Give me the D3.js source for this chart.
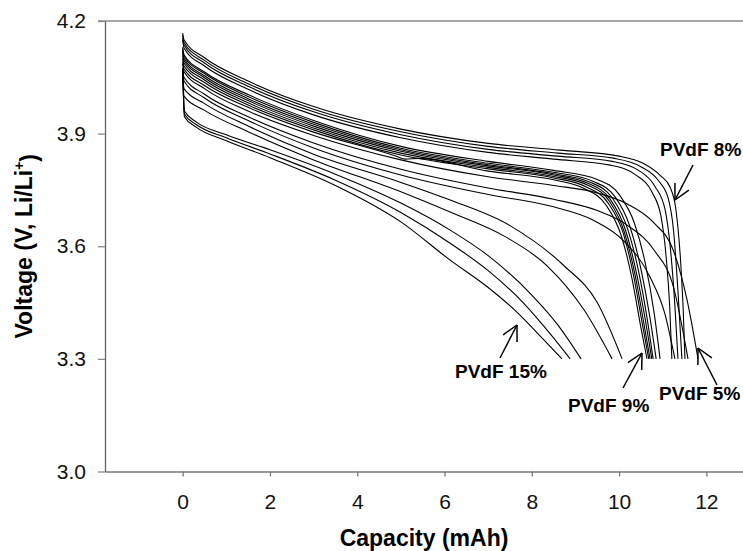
<!DOCTYPE html>
<html>
<head>
<meta charset="utf-8">
<script src="https://cdn.jsdelivr.net/npm/d3@7"></script>
<style>
  body { margin: 0; background: #fff; }
  text { font-family: "Liberation Sans", Arial, Helvetica, sans-serif; }
</style>
</head>
<body>
<div id="chart"></div>
<script>
// data: discharge curves, [capacity mAh, voltage V]
var pvdf8 = [
  [[0,4.168],[0.03,4.15],[0.5,4.102],[1.5,4.04],[3,3.972],[5,3.912],[7,3.874],[8.65,3.856],[10,3.84],[10.55,3.821],[10.94,3.789],[11.17,3.757],[11.3,3.70],[11.41,3.56],[11.47,3.43],[11.51,3.3]],
  [[0,4.162],[0.03,4.143],[0.5,4.095],[1.5,4.033],[3,3.965],[5,3.905],[7,3.866],[8.6,3.848],[9.9,3.834],[10.5,3.812],[10.9,3.775],[11.12,3.73],[11.25,3.64],[11.35,3.48],[11.44,3.3]],
  [[0,4.156],[0.03,4.136],[0.5,4.088],[1.5,4.026],[3,3.958],[5,3.897],[7,3.858],[8.6,3.84],[9.85,3.826],[10.45,3.802],[10.82,3.76],[11.05,3.70],[11.18,3.59],[11.28,3.44],[11.35,3.3]],
  [[0,4.15],[0.03,4.128],[0.5,4.08],[1.5,4.018],[3,3.95],[5,3.889],[7,3.85],[8.5,3.832],[9.8,3.816],[10.38,3.79],[10.75,3.745],[10.96,3.68],[11.08,3.57],[11.16,3.44],[11.21,3.3]]
];
var pvdf9 = [
  [[0,4.13],[0.03,4.11],[0.5,4.064],[1.5,4.004],[3,3.935],[5,3.866],[7,3.826],[8.5,3.802],[9.5,3.778],[10,3.738],[10.35,3.662],[10.6,3.555],[10.8,3.425],[10.94,3.3]],
  [[0,4.126],[0.03,4.106],[0.5,4.06],[1.5,3.999],[3,3.93],[5,3.861],[7,3.821],[8.5,3.797],[9.4,3.773],[9.9,3.733],[10.25,3.652],[10.5,3.54],[10.7,3.415],[10.85,3.3]],
  [[0,4.121],[0.03,4.1],[0.5,4.054],[1.5,3.993],[3,3.925],[5,3.857],[7,3.817],[8.5,3.793],[9.35,3.77],[9.85,3.728],[10.2,3.645],[10.45,3.532],[10.64,3.41],[10.78,3.3]],
  [[0,4.116],[0.03,4.095],[0.5,4.049],[1.5,3.988],[3,3.92],[5,3.853],[7,3.814],[8.5,3.79],[9.3,3.767],[9.8,3.725],[10.15,3.642],[10.4,3.528],[10.6,3.405],[10.75,3.3]],
  [[0,4.108],[0.03,4.088],[0.5,4.043],[1.5,3.982],[3,3.915],[5,3.848],[7,3.81],[8.5,3.786],[9.3,3.762],[9.78,3.72],[10.12,3.638],[10.37,3.522],[10.56,3.4],[10.71,3.3]],
  [[0,4.1],[0.03,4.08],[0.5,4.036],[1.5,3.976],[3,3.91],[5,3.843],[7,3.806],[8.5,3.782],[9.25,3.758],[9.75,3.715],[10.1,3.633],[10.34,3.518],[10.53,3.395],[10.68,3.3]],
  [[0,4.09],[0.03,4.072],[0.5,4.028],[1.5,3.97],[3,3.904],[4.9,3.84],[5.1,3.832],[5.4,3.834],[7,3.8],[8.5,3.777],[9.2,3.754],[9.7,3.71],[10.05,3.628],[10.3,3.512],[10.49,3.39],[10.64,3.3]]
];
var pvdf5 = [
  [[0,4.085],[0.03,4.065],[0.5,4.02],[1.5,3.96],[3,3.895],[5,3.83],[7,3.785],[8.5,3.762],[9.5,3.742],[10.2,3.712],[10.8,3.662],[11.24,3.59],[11.56,3.456],[11.81,3.3]],
  [[0,4.074],[0.03,4.05],[0.5,4.005],[1.5,3.945],[3,3.875],[5,3.805],[7,3.755],[8.5,3.725],[9.5,3.695],[10.2,3.655],[10.8,3.59],[11.25,3.49],[11.58,3.3]],
  [[0,4.074],[0.03,4.04],[0.5,3.995],[1.5,3.935],[3,3.862],[5,3.79],[7,3.738],[8.5,3.705],[9.4,3.67],[10.1,3.615],[10.7,3.52],[11.05,3.42],[11.28,3.3]]
];
var pvdf12 = [
  [[0,4.074],[0.03,4.02],[0.5,3.98],[1.5,3.92],[3,3.845],[5,3.77],[6.13,3.723],[7.5,3.655],[8.72,3.55],[9.5,3.45],[10.07,3.3]],
  [[0,4.074],[0.03,4.0],[0.5,3.962],[1.5,3.905],[3,3.83],[5,3.745],[6.13,3.691],[7.4,3.625],[8.35,3.548],[9.2,3.43],[9.84,3.3]]
];
var pvdf15 = [
  [[0,4.074],[0.04,3.96],[0.3,3.932],[1,3.897],[2,3.857],[3.5,3.792],[5,3.715],[6.13,3.643],[7,3.575],[8,3.47],[8.6,3.39],[9.13,3.3]],
  [[0,4.074],[0.04,3.952],[0.3,3.925],[1,3.889],[2,3.846],[3.5,3.776],[5,3.69],[6.13,3.608],[7,3.535],[7.8,3.45],[8.4,3.37],[8.88,3.3]],
  [[0,4.074],[0.04,3.945],[0.3,3.918],[1,3.881],[2,3.836],[3.5,3.762],[5,3.665],[6.13,3.563],[7,3.49],[7.7,3.42],[8.2,3.36],[8.69,3.3]]
];
var xTicks = [0, 2, 4, 6, 8, 10, 12];
var yTicks = [3.0, 3.3, 3.6, 3.9, 4.2];
var annoLabels = ["PVdF 8%", "PVdF 15%", "PVdF 9%", "PVdF 5%"];

var width = 743, height = 551;
var padL = 105, padT = 21, padB = 471.5;

var svg = d3.select("#chart").append("svg")
    .attr("width", width)
    .attr("height", height);

var x = d3.scaleLinear().domain([-1.78, 12.84]).range([padL, width]);
var y = d3.scaleLinear().domain([3.0, 4.2]).range([padB, padT]);

// top border
svg.append("line")
    .attr("x1", padL - 7).attr("x2", width)
    .attr("y1", padT).attr("y2", padT)
    .attr("stroke", "#a8a8a8").attr("stroke-width", 2);

// axes
var gx = svg.append("g")
    .attr("transform", "translate(0," + padB + ")")
    .call(d3.axisBottom(x).tickValues(xTicks).tickSize(5).tickSizeOuter(0).tickPadding(18));
gx.select(".domain").attr("stroke", "#777").attr("stroke-width", 1.5);
gx.selectAll(".tick line").attr("stroke", "#777").attr("stroke-width", 1.3);
gx.selectAll("text").style("font-size", "21px").attr("fill", "#111");

var gy = svg.append("g")
    .attr("transform", "translate(" + padL + ",0)")
    .call(d3.axisLeft(y).tickValues(yTicks).tickFormat(d3.format(".1f")).tickSize(7).tickSizeOuter(0).tickPadding(12));
gy.select(".domain").attr("stroke", "#666").attr("stroke-width", 1.3);
gy.selectAll(".tick line").attr("stroke", "#888").attr("stroke-width", 1.3);
gy.selectAll("text").style("font-size", "21px").attr("fill", "#111");

// axis titles
svg.append("text")
    .attr("x", (padL + width) / 2).attr("y", 546)
    .attr("text-anchor", "middle")
    .style("font-size", "23px").style("font-weight", "bold")
    .text("Capacity (mAh)");

var yl = svg.append("text")
    .attr("transform", "translate(32," + ((padT + padB) / 2) + ")rotate(-90)")
    .attr("text-anchor", "middle")
    .style("font-size", "23px").style("font-weight", "bold");
yl.append("tspan").text("Voltage (V, Li/Li");
yl.append("tspan").attr("dy", "-0.55em").style("font-size", "14px").text("+");
yl.append("tspan").attr("dy", "0.55em").text(")");

// curves
var line = d3.line()
    .x(function(d){ return x(d[0]); })
    .y(function(d){ return y(d[1]); })
    .curve(d3.curveMonotoneX);

var all = [].concat(pvdf8, pvdf9, pvdf5, pvdf12, pvdf15);
svg.append("g").selectAll("path")
    .data(all)
    .enter().append("path")
    .attr("d", line)
    .attr("fill", "none")
    .attr("stroke", "#000")
    .attr("stroke-width", 1.1);

// annotations (pixel layout)
var anno = [
  {tx: 660, ty: 156, tail: [693, 165], tip: [675, 200]},
  {tx: 455, ty: 378, tail: [500, 358], tip: [517, 325]},
  {tx: 568, ty: 412, tail: [623, 388], tip: [642, 353]},
  {tx: 659, ty: 400, tail: [717, 385], tip: [698, 348]}
];
anno.forEach(function(a, i){
    svg.append("text")
        .attr("x", a.tx).attr("y", a.ty)
        .style("font-size", "19px").style("font-weight", "bold")
        .text(annoLabels[i]);
    svg.append("line")
        .attr("x1", a.tail[0]).attr("y1", a.tail[1])
        .attr("x2", a.tip[0]).attr("y2", a.tip[1])
        .attr("stroke", "#000").attr("stroke-width", 1.5);
    var ang = Math.atan2(a.tail[1] - a.tip[1], a.tail[0] - a.tip[0]);
    [-0.48, 0.48].forEach(function(o){
        svg.append("line")
            .attr("x1", a.tip[0]).attr("y1", a.tip[1])
            .attr("x2", a.tip[0] + 17 * Math.cos(ang + o))
            .attr("y2", a.tip[1] + 17 * Math.sin(ang + o))
            .attr("stroke", "#000").attr("stroke-width", 1.5);
    });
});
</script>
</body>
</html>
